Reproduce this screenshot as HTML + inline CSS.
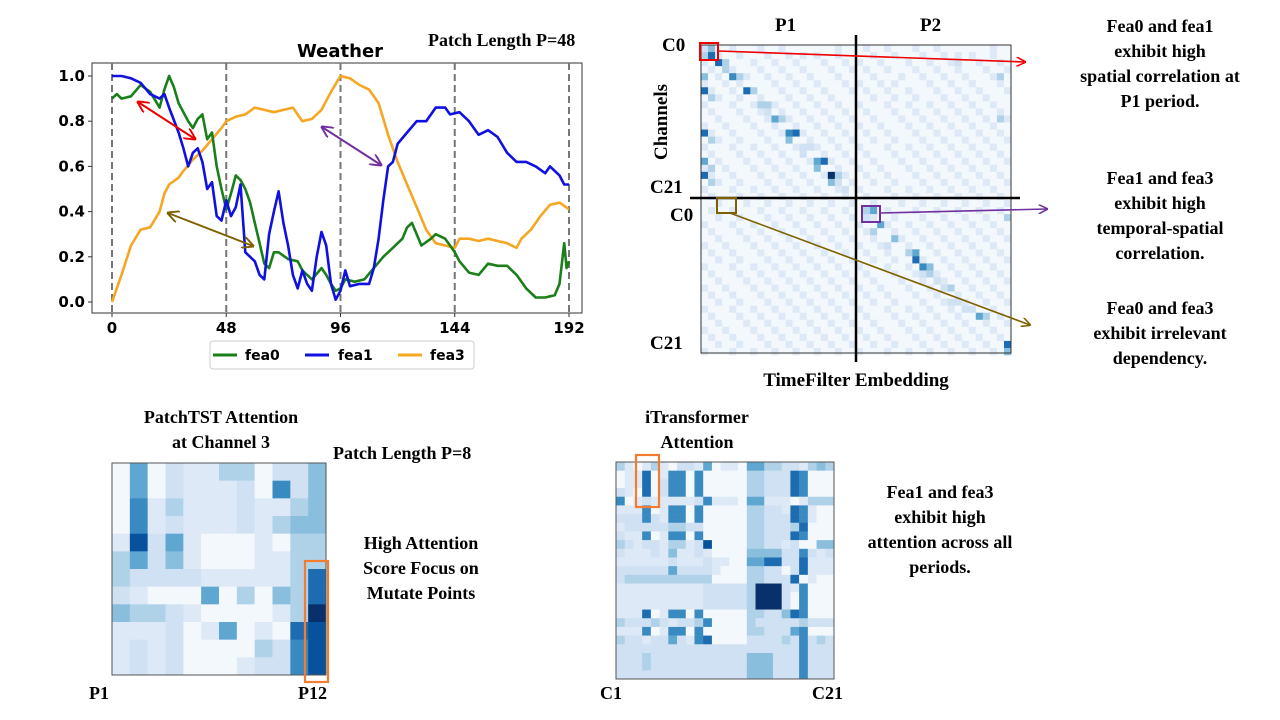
<!DOCTYPE html>
<html><head><meta charset="utf-8"><style>
html,body{margin:0;padding:0;background:#fff;}
svg{display:block;}
.serif{font-family:"Liberation Serif",serif;font-weight:bold;}
.sans{font-family:"DejaVu Sans","Liberation Sans",sans-serif;font-weight:bold;}
</style></head><body>
<svg id="fig" width="1280" height="720" viewBox="0 0 1280 720" xmlns="http://www.w3.org/2000/svg">
<defs>
<marker id="arR" viewBox="0 0 10 10" refX="9" refY="5" markerWidth="6" markerHeight="6" orient="auto-start-reverse"><path d="M0,0 L10,5 L0,10" fill="none" stroke="#e00" stroke-width="1.6"/></marker>
<marker id="arP" viewBox="0 0 10 10" refX="9" refY="5" markerWidth="6" markerHeight="6" orient="auto-start-reverse"><path d="M0,0 L10,5 L0,10" fill="none" stroke="#7030a0" stroke-width="1.6"/></marker>
<marker id="arB" viewBox="0 0 10 10" refX="9" refY="5" markerWidth="6" markerHeight="6" orient="auto-start-reverse"><path d="M0,0 L10,5 L0,10" fill="none" stroke="#7f6000" stroke-width="1.6"/></marker>
</defs>
<g id="linechart">
<text class="sans" x="340" y="57" font-size="18" text-anchor="middle">Weather</text>
<text class="serif" x="428" y="46" font-size="18">Patch Length P=48</text>
<rect x="92" y="63" width="490" height="250" fill="none" stroke="#333" stroke-width="1"/>
<g id="grid"></g><g id="ticks"></g><g id="lines"></g>
<line x1="138" y1="102" x2="195" y2="139" stroke="#e00" stroke-width="2" marker-start="url(#arR)" marker-end="url(#arR)"/>
<line x1="322" y1="127" x2="381" y2="165" stroke="#7030a0" stroke-width="2" marker-start="url(#arP)" marker-end="url(#arP)"/>
<line x1="168" y1="213" x2="253" y2="246" stroke="#7f6000" stroke-width="2" marker-start="url(#arB)" marker-end="url(#arB)"/>
<g>
<rect x="210" y="341" width="264" height="28" fill="#fff" stroke="#ccc" rx="3"/>
<line x1="213" y1="355" x2="237" y2="355" stroke="#1a7f1a" stroke-width="3"/>
<text class="sans" x="245" y="360" font-size="14">fea0</text>
<line x1="305" y1="355" x2="329" y2="355" stroke="#1010e0" stroke-width="3"/>
<text class="sans" x="338" y="360" font-size="14">fea1</text>
<line x1="398" y1="355" x2="422" y2="355" stroke="#f5a623" stroke-width="3"/>
<text class="sans" x="430" y="360" font-size="14">fea3</text>
</g>
</g>
<g id="tf"></g>
<g>
<line x1="856" y1="35" x2="856" y2="362" stroke="#000" stroke-width="2.5"/>
<line x1="690" y1="198" x2="1020" y2="198" stroke="#000" stroke-width="2.5"/>
<text class="serif" x="775" y="31" font-size="19">P1</text>
<text class="serif" x="920" y="31" font-size="19">P2</text>
<text class="serif" x="662" y="51" font-size="19">C0</text>
<text class="serif" x="650" y="193" font-size="19">C21</text>
<text class="serif" x="670" y="221" font-size="19">C0</text>
<text class="serif" x="650" y="349" font-size="19">C21</text>
<text class="serif" x="0" y="0" font-size="19" text-anchor="middle" transform="translate(667,122) rotate(-90)">Channels</text>
<text class="serif" x="856" y="386" font-size="19" text-anchor="middle">TimeFilter Embedding</text>
<rect x="700" y="43" width="18" height="17" fill="none" stroke="#e00" stroke-width="2"/>
<line x1="718" y1="51" x2="1025" y2="62" stroke="#e00" stroke-width="1.6" marker-end="url(#arR)"/>
<rect x="862" y="206" width="18" height="16" fill="none" stroke="#7030a0" stroke-width="2"/>
<line x1="880" y1="213" x2="1047" y2="209" stroke="#7030a0" stroke-width="1.6" marker-end="url(#arP)"/>
<rect x="717" y="198" width="19" height="15" fill="none" stroke="#7f6000" stroke-width="2"/>
<line x1="730" y1="213" x2="1030" y2="325" stroke="#7f6000" stroke-width="1.6" marker-end="url(#arB)"/>
</g>
<g class="serif" font-size="18" text-anchor="middle">
<text x="1160" y="32">Fea0 and fea1</text><text x="1160" y="57">exhibit high</text><text x="1160" y="82">spatial correlation at</text><text x="1160" y="107">P1 period.</text>
<text x="1160" y="184">Fea1 and fea3</text><text x="1160" y="209">exhibit high</text><text x="1160" y="234">temporal-spatial</text><text x="1160" y="259">correlation.</text>
<text x="1160" y="314">Fea0 and fea3</text><text x="1160" y="339">exhibit irrelevant</text><text x="1160" y="364">dependency.</text>
</g>
<g id="pt"></g>
<g class="serif" font-size="18">
<text x="221" y="423" text-anchor="middle">PatchTST Attention</text>
<text x="221" y="448" text-anchor="middle">at Channel 3</text>
<text x="333" y="459">Patch Length P=8</text>
<text x="421" y="549" text-anchor="middle">High Attention</text>
<text x="421" y="574" text-anchor="middle">Score Focus on</text>
<text x="421" y="599" text-anchor="middle">Mutate Points</text>
<text x="89" y="699">P1</text><text x="298" y="699">P12</text>
<rect x="305" y="561" width="23" height="121" fill="none" stroke="#f47c30" stroke-width="2.2"/>
</g>
<g id="it"></g>
<g class="serif" font-size="18">
<text x="697" y="423" text-anchor="middle">iTransformer</text>
<text x="697" y="448" text-anchor="middle">Attention</text>
<text x="600" y="699">C1</text><text x="812" y="699">C21</text>
<text x="940" y="498" text-anchor="middle">Fea1 and fea3</text>
<text x="940" y="523" text-anchor="middle">exhibit high</text>
<text x="940" y="548" text-anchor="middle">attention across all</text>
<text x="940" y="573" text-anchor="middle">periods.</text>
<rect x="636" y="455" width="23" height="52" fill="none" stroke="#f47c30" stroke-width="2.2"/>
</g>
</svg>
<script>
const xTicks=[0,48,96,144,192];
const yTicks=[0.0,0.2,0.4,0.6,0.8,1.0];
const fea0T=[0,2,4,8,12,16,20,22,24,26,28,32,34,36,38,40,42,44,46,48,50,52,54,56,58,60,62,64,66,68,70,74,78,80,84,88,90,92,94,96,98,102,106,110,114,118,122,124,126,128,130,134,136,140,144,146,150,154,158,162,166,170,174,178,182,186,188,190,191,192];
const fea0V=[0.90,0.92,0.90,0.91,0.96,0.93,0.86,0.94,1.0,0.95,0.88,0.80,0.77,0.81,0.83,0.72,0.75,0.60,0.50,0.41,0.48,0.56,0.54,0.50,0.44,0.35,0.26,0.17,0.15,0.22,0.22,0.19,0.18,0.14,0.10,0.15,0.12,0.08,0.05,0.06,0.10,0.09,0.10,0.15,0.20,0.24,0.28,0.33,0.35,0.30,0.25,0.28,0.30,0.28,0.22,0.18,0.13,0.12,0.17,0.16,0.16,0.12,0.06,0.02,0.02,0.03,0.08,0.26,0.15,0.18];
const fea1T=[0,4,8,12,16,20,22,24,28,30,32,34,36,38,40,42,44,46,48,50,52,54,56,58,60,62,64,66,68,70,72,74,76,78,80,82,84,86,88,90,92,94,96,98,100,104,108,110,112,114,116,118,120,124,128,132,136,140,142,146,150,154,158,162,166,170,174,178,182,184,188,190,192];
const fea1V=[1.0,1.0,0.99,0.97,0.92,0.90,0.92,0.86,0.75,0.68,0.60,0.66,0.68,0.62,0.50,0.53,0.38,0.36,0.45,0.38,0.42,0.52,0.22,0.20,0.18,0.12,0.10,0.30,0.40,0.49,0.35,0.25,0.12,0.06,0.14,0.08,0.05,0.20,0.31,0.25,0.08,0.01,0.05,0.14,0.07,0.08,0.08,0.15,0.28,0.45,0.60,0.62,0.70,0.75,0.80,0.80,0.86,0.86,0.83,0.84,0.80,0.74,0.76,0.73,0.66,0.62,0.62,0.60,0.57,0.60,0.56,0.52,0.52];
const fea3T=[0,4,8,12,16,20,22,24,28,30,34,38,42,46,48,52,56,60,64,68,72,76,80,84,88,92,96,100,104,108,112,116,120,124,128,132,136,140,144,146,150,154,158,162,166,170,172,176,180,184,188,192];
const fea3V=[0.00,0.12,0.25,0.32,0.33,0.40,0.48,0.52,0.55,0.58,0.63,0.67,0.72,0.77,0.80,0.82,0.83,0.86,0.85,0.84,0.85,0.86,0.80,0.81,0.85,0.93,1.0,0.99,0.96,0.94,0.88,0.74,0.62,0.52,0.42,0.32,0.26,0.25,0.24,0.28,0.28,0.27,0.28,0.27,0.26,0.24,0.28,0.32,0.38,0.43,0.44,0.41];

const tfBackground=[
"0100100010010000000100","0010010001001010100100","1001000100100100010010","0100100010010010001001","0010001001001001000100","1001010000100100100010","0100100100010010010001","0010010010001001001000","1000100100100100100100","0100010010010010010010","0010001001001001001001","1001000100100100100100","0100100010010010010010","0010010001001001001001","1000100100100100100100","0100010010010010010010","0010001001001001001001","1001000100100100100100","0100100010010010010010","0010010001001001001001","1000100100100100100100","0100010010010010010010",
"0010001001001001001001","0100100010010010010010","0010010001001001001001","1000100100100100100100","0100010010010010010010","0010001001001001001001","1001000100100100100100","0100100010010010010010","0010010001001001001001","1000100100100100100100","0100010010010010010010","0010001001001001001001","1001000100100100100100","0100100010010010010010","0010010001001001001001","1000100100100100100100","0100010010010010010010","0010001001001001001001","1001000100100100100100","0100100010010010010010","0010010001001001001001","1000100100100100100100"];
const tfHighlights=[[0,0,2],[0,1,4],[1,1,7],[1,0,3],[2,2,7],[2,3,3],[3,3,3],[4,0,4],[4,4,6],[4,5,3],[6,0,7],[6,6,7],[6,7,3],[7,1,3],[8,8,3],[8,9,3],[9,9,2],[10,10,5],[10,11,3],[12,0,7],[12,12,6],[12,13,7],[13,12,4],[13,1,3],[14,14,2],[14,15,2],[15,14,2],[16,16,5],[16,17,7],[16,0,5],[17,16,4],[17,1,3],[18,18,9],[18,19,3],[18,0,7],[19,18,4],[19,19,2],[19,1,3],[20,20,2],
[23,23,3],[23,24,5],[24,23,2],[25,25,5],[26,24,3],[27,27,4],[28,26,2],[29,29,3],[29,30,5],[30,30,7],[31,31,6],[31,32,4],[32,32,3],[32,31,2],[33,33,2],[34,34,2],[34,35,3],[36,35,2],[36,36,2],[37,37,2],[37,38,2],[38,39,5],[38,40,3],[42,43,7],[43,43,4],[4,42,3],[2,36,2],[10,42,3],[24,43,3]];
const ptRows=[
[0,5,0,2,1,1,3,3,0,2,2,4],[0,5,0,2,1,1,1,2,0,6,2,4],[0,6,1,3,1,1,1,2,1,1,3,4],[0,6,1,2,1,1,1,2,1,3,4,4],
[1,8,2,5,1,0,0,0,1,0,3,3],[3,5,2,4,1,0,0,0,1,1,3,3],[3,2,2,2,2,1,1,1,1,1,3,7],[2,1,0,0,0,5,0,3,0,4,3,7],
[4,3,3,2,1,0,0,0,0,1,3,9],[1,1,1,2,0,1,5,0,1,0,7,8],[1,2,1,2,0,0,0,0,3,2,6,8],[1,2,1,2,0,0,0,1,2,2,6,8]];
const itRows=["3101310221501105533221343","0117016606000003322276000","0117026606000003322276000","2107026606000003322276000","6012111112611105511101333","1116016606000003322176100","2226216606000003322276100","1222223322000003322237000","2116016606000003322276000","3212213312800003322120044","2111214112100004444226212","1111112111211005577227111","2222225222210003322027111","2333333333300003322270100","1111111111222223999216000","1111111111222223999206000","1111111111222223999206000","1117016606000003322476000","3222321223600003222223222","1116016606000003322256000","3221225216700002222326232","2222222222222222222226222","2223222222222224442226222","2223222222222224442226222","2222222222222224442226222"];

const blues=["#f3f8fd","#dde9f6","#cfe1f2","#b0d2e8","#89bfdd","#5fa6d1","#3a8ac2","#1d6cb1","#08519c","#08306b"];
const NS="http://www.w3.org/2000/svg";
function mk(tag,attrs,parent){const e=document.createElementNS(NS,tag);for(const k in attrs)e.setAttribute(k,attrs[k]);parent.appendChild(e);return e;}
const xS=t=>112+t*(569-112)/192;
const yS=v=>302-v*226;
const grid=document.getElementById('grid'),ticks=document.getElementById('ticks'),lines=document.getElementById('lines');
xTicks.forEach(t=>{
  const l=mk('line',{x1:xS(t),x2:xS(t),y1:63,y2:313,stroke:'#777','stroke-width':2,'stroke-dasharray':'7,4'},grid);
  
  
  mk('line',{x1:xS(t),x2:xS(t),y1:313,y2:317,stroke:'#333'},ticks);
  const tx=mk('text',{x:xS(t),y:333,'font-size':15,'text-anchor':'middle','class':'sans'},ticks);
  tx.textContent=String(t);
  
  
});
yTicks.forEach(v=>{
  mk('line',{x1:88,x2:92,y1:yS(v),y2:yS(v),stroke:'#333'},ticks);
  const tx=mk('text',{x:85,y:yS(v)+5,'font-size':15,'text-anchor':'end','class':'sans'},ticks);
  tx.textContent=v.toFixed(1);
  
  
});
function series(T,V,color,name){
  const d=T.map((t,i)=>(i?'L':'M')+xS(t).toFixed(1)+','+yS(V[i]).toFixed(1)).join(' ');
  const p=mk('path',{d:d,fill:'none',stroke:color,'stroke-width':2.6,'stroke-linejoin':'round'},lines);
  
  
}
series(fea3T,fea3V,'#f5a623','fea3-line');
series(fea0T,fea0V,'#1a7f1a','fea0-line');
series(fea1T,fea1V,'#1010e0','fea1-line');

const tf=document.getElementById('tf');
const N=44,tx0=701,ty0=45,cs=310/44;
const tfM=tfBackground.map(r=>(r+r).padEnd(N,'0').slice(0,N).split('').map(Number));
tfHighlights.forEach(h=>{tfM[h[0]][h[1]]=h[2];});
tfM.forEach((row,r)=>row.forEach((v,c)=>{
  const e=mk('rect',{x:tx0+c*cs,y:ty0+r*cs,width:cs+0.3,height:cs+0.3,fill:blues[v]},tf);
  
  
}));
mk('rect',{x:tx0,y:ty0,width:310,height:308,fill:'none',stroke:'#333','stroke-width':1},tf);

const pt=document.getElementById('pt');
const pw=(326-112)/12,ph=(675-463)/12;
ptRows.forEach((row,r)=>row.forEach((v,c)=>{
  const e=mk('rect',{x:112+c*pw,y:463+r*ph,width:pw+0.3,height:ph+0.3,fill:blues[v]},pt);
  
  
}));
mk('rect',{x:112,y:463,width:214,height:212,fill:'none',stroke:'#555','stroke-width':1},pt);

const it=document.getElementById('it');
const iw=(834-616)/25,ih=(679-462)/25;
itRows.forEach((row,r)=>row.split('').forEach((ch,c)=>{
  const e=mk('rect',{x:616+c*iw,y:462+r*ih,width:iw+0.3,height:ih+0.3,fill:blues[Number(ch)]},it);
  
  
}));
mk('rect',{x:616,y:462,width:218,height:217,fill:'none',stroke:'#555','stroke-width':1},it);
</script>
</body></html>
